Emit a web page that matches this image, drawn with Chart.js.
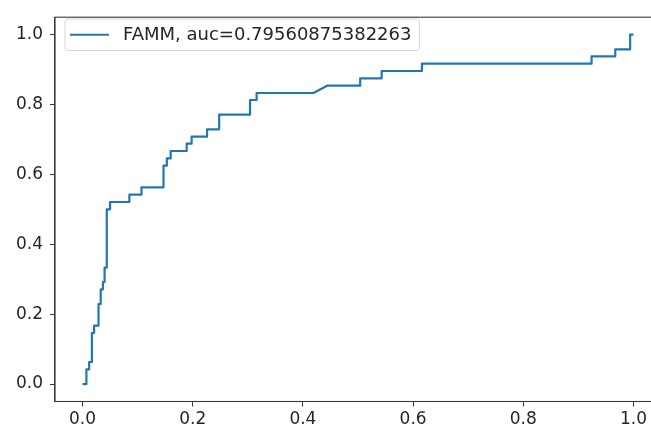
<!DOCTYPE html>
<html>
<head>
<meta charset="utf-8">
<script src="https://cdn.jsdelivr.net/npm/chart.js@4/dist/chart.umd.min.js"></script>
<style>
  html, body { margin: 0; padding: 0; background: #fff; overflow: hidden; }
  #wrap { width: 662px; height: 435px; }
</style>
</head>
<body>
<div id="wrap"><canvas id="roc"></canvas></div>
<script>
// ROC curve points (false positive rate / true positive rate)
const fpr = [
  0, 0.007, 0.007, 0.012, 0.012, 0.017, 0.017, 0.021, 0.021, 0.029,
  0.029, 0.033, 0.033, 0.037, 0.037, 0.040, 0.040, 0.044, 0.044, 0.050,
  0.050, 0.085, 0.085, 0.107, 0.107, 0.147, 0.147, 0.153, 0.153, 0.160,
  0.160, 0.189, 0.189, 0.198, 0.198, 0.226, 0.226, 0.248, 0.248, 0.304,
  0.304, 0.316, 0.316, 0.419, 0.444, 0.504, 0.504, 0.543, 0.543, 0.616,
  0.616, 0.924, 0.924, 0.967, 0.967, 0.994, 0.994, 1.0
];
const tpr = [
  0, 0, 0.042, 0.042, 0.063, 0.063, 0.146, 0.146, 0.167, 0.167,
  0.229, 0.229, 0.271, 0.271, 0.292, 0.292, 0.333, 0.333, 0.500, 0.500,
  0.521, 0.521, 0.542, 0.542, 0.563, 0.563, 0.625, 0.625, 0.646, 0.646,
  0.667, 0.667, 0.688, 0.688, 0.708, 0.708, 0.729, 0.729, 0.771, 0.771,
  0.813, 0.813, 0.833, 0.833, 0.854, 0.854, 0.875, 0.875, 0.896, 0.896,
  0.917, 0.917, 0.938, 0.938, 0.958, 0.958, 1.0, 1.0
];
const seriesLabel = "FAMM, auc=0.79560875382263";
const tickValues = [0, 0.2, 0.4, 0.6, 0.8, 1.0];

const textColor = "#262626";
const spineColor = "#3a3a3a";
const fontSpec = { family: "'DejaVu Sans', sans-serif", size: 17 };

// full box around the plot area, like matplotlib spines
const framePlugin = {
  id: 'frame',
  afterDraw(chart) {
    const { ctx, chartArea: a } = chart;
    ctx.save();
    ctx.strokeStyle = spineColor;
    ctx.lineWidth = 1.1;
    ctx.strokeRect(a.left, a.top, a.right - a.left, a.bottom - a.top);
    ctx.restore();
  }
};

// legend drawn inside the plot, upper left
const innerLegend = {
  id: 'innerLegend',
  afterDraw(chart) {
    const { ctx } = chart;
    const ds = chart.data.datasets[0];
    ctx.save();
    ctx.font = "18px 'DejaVu Sans', sans-serif";
    const x0 = 65, y0 = 19, h = 31.5;
    const textX = 123;
    const w = textX + ctx.measureText(ds.label).width + 8 - x0;
    const r = 3;
    ctx.beginPath();
    ctx.moveTo(x0 + r, y0);
    ctx.arcTo(x0 + w, y0, x0 + w, y0 + h, r);
    ctx.arcTo(x0 + w, y0 + h, x0, y0 + h, r);
    ctx.arcTo(x0, y0 + h, x0, y0, r);
    ctx.arcTo(x0, y0, x0 + w, y0, r);
    ctx.closePath();
    ctx.fillStyle = "rgba(255,255,255,0.8)";
    ctx.fill();
    ctx.strokeStyle = "#d6d6d6";
    ctx.lineWidth = 1;
    ctx.stroke();
    const cy = y0 + h / 2;
    ctx.beginPath();
    ctx.moveTo(70, cy);
    ctx.lineTo(109, cy);
    ctx.strokeStyle = ds.borderColor;
    ctx.lineWidth = ds.borderWidth;
    ctx.stroke();
    ctx.fillStyle = textColor;
    ctx.textBaseline = "middle";
    ctx.fillText(ds.label, textX, cy + 0.5);
    ctx.restore();
  }
};

const points = fpr.map((x, i) => ({ x, y: tpr[i] }));

new Chart(document.getElementById('roc').getContext('2d'), {
  type: 'line',
  data: {
    datasets: [{
      label: seriesLabel,
      data: points,
      borderColor: '#1f77b4',
      borderWidth: 2.2,
      pointRadius: 0,
      tension: 0,
      fill: false,
      borderJoinStyle: 'round'
    }]
  },
  options: {
    responsive: true,
    maintainAspectRatio: false,
    animation: false,
    layout: { padding: { top: 10, right: 1, left: 0, bottom: 0 } },
    plugins: { legend: { display: false }, tooltip: { enabled: false } },
    scales: {
      x: {
        type: 'linear',
        min: -0.05,
        max: 1.05,
        afterBuildTicks: s => { s.ticks = tickValues.map(v => ({ value: v })); },
        afterFit: s => { s.height = 33.5; },
        grid: { drawOnChartArea: false, drawTicks: true, tickLength: 5, tickColor: spineColor, tickWidth: 1.1 },
        border: { display: true, color: spineColor, width: 1.1 },
        ticks: { color: textColor, font: fontSpec, padding: 3, maxRotation: 0, callback: v => v.toFixed(1) }
      },
      y: {
        type: 'linear',
        min: -0.05,
        max: 1.05,
        afterBuildTicks: s => { s.ticks = tickValues.map(v => ({ value: v })); },
        afterFit: s => { s.width = 55; },
        grid: { drawOnChartArea: false, drawTicks: true, tickLength: 5, tickColor: spineColor, tickWidth: 1.1 },
        border: { display: true, color: spineColor, width: 1.1 },
        ticks: { color: textColor, font: fontSpec, padding: 7, callback: v => v.toFixed(1) }
      }
    }
  },
  plugins: [framePlugin, innerLegend]
});
</script>
</body>
</html>
